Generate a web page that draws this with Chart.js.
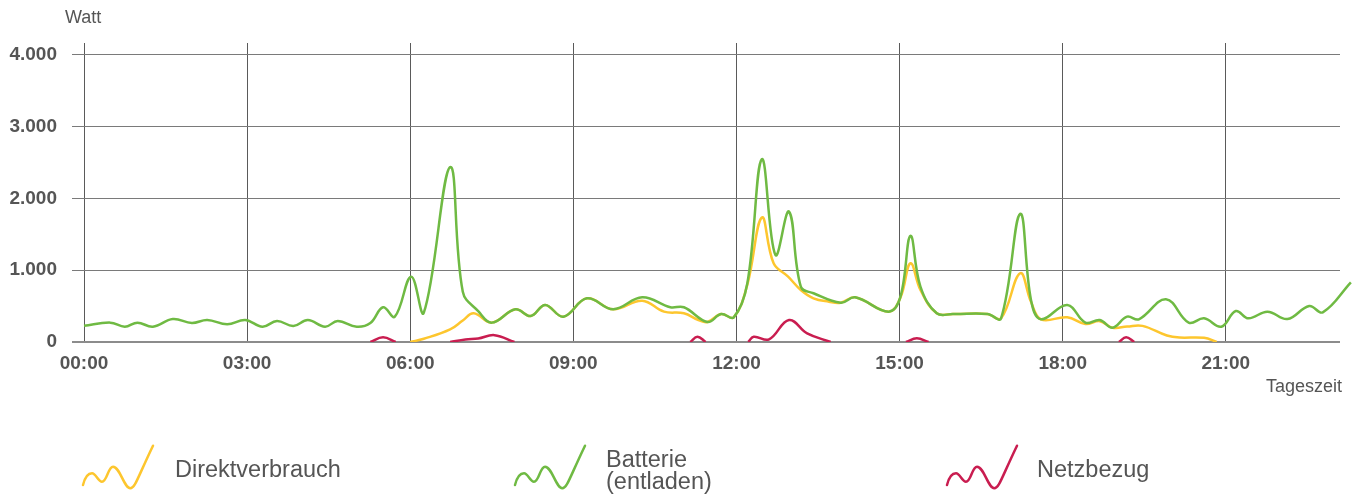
<!DOCTYPE html>
<html>
<head>
<meta charset="utf-8">
<script src="https://cdn.jsdelivr.net/npm/chart.js@4"></script>
<style>
  body { margin: 0; background: #fff; }
  canvas { display: block; }
</style>
</head>
<body>
<canvas id="tagChart" width="1360" height="495"></canvas>
<script>
// Batterie (entladen)
let battTimes = ['00:00','00:29','00:45','00:59','01:16','01:38','01:59','02:16','02:38','02:58',
  '03:17','03:33','03:51','04:07','04:26','04:40','05:01','05:16','05:30','05:43',
  '06:01','06:15','06:44','06:58','07:15','07:30','07:56','08:13','08:29','08:49',
  '09:15','09:44','10:16','10:47','11:02','11:28','11:43','11:57','12:12','12:28',
  '12:43','12:58','13:11','13:25','13:55','14:11','14:48','15:01','15:12','15:23',
  '15:41','15:59','16:37','16:52','17:13','17:25','17:36','18:05','18:25','18:41',
  '18:55','19:11','19:24','19:54','20:19','20:36','20:55','21:11','21:25','21:46',
  '22:08','22:32','22:47','23:18'];
let battWatts = [225,270,213,270,213,320,265,307,247,307,
  213,293,223,307,213,293,213,265,484,353,
  910,409,2436,700,430,270,456,362,516,353,
  609,456,623,484,484,279,390,344,818,2548,
  1213,1817,771,679,548,623,423,632,1478,771,
  400,390,390,330,1785,586,316,516,270,307,
  200,353,316,595,270,330,213,432,330,423,
  320,502,414,832];

// Direktverbrauch
let direktTimes = ['06:00','06:15','06:44','06:58','07:10','07:30','07:56','08:13','08:29','08:49',
  '09:15','09:44','10:16','10:40','11:02','11:18','11:28','11:43','11:57','12:12',
  '12:28','12:41','12:57','13:11','13:25','13:42','13:55','14:11','14:48','15:01',
  '15:12','15:23','15:41','15:59','16:37','16:52','17:13','17:25','17:36','18:05',
  '18:25','18:41','18:55','19:11','19:28','19:55','20:09','20:36','20:50'];
let direktWatts = [0,45,175,300,400,270,456,362,516,353,
  609,456,576,423,400,307,279,390,344,800,
  1734,1098,911,725,609,562,548,623,423,620,
  1098,725,400,390,390,330,958,560,316,345,
  251,290,200,215,225,90,62,58,0];

// Netzbezug (null = keine Linie)
let netzTimes = ['05:16','05:30','05:44','05:50',
  '06:44','07:01','07:15','07:33','07:55','08:00',
  '11:09','11:17','11:26','11:30',
  '12:13','12:19','12:36','12:58','13:18','13:44','13:50',
  '15:07','15:19','15:32','15:40',
  '19:02','19:10','19:19'];
let netzWatts = [0,65,0,null,
  0,35,50,95,0,null,
  0,74,0,null,
  0,74,37,307,121,0,null,
  0,51,0,null,
  0,65,0];

let yTicks = [0,1000,2000,3000,4000];
let xTicks = [0,3,6,9,12,15,18,21];

let colYellow = '#fdc62e', colGreen = '#6fba43', colRed = '#c91d50';

function hrs(s){
  let p = s.split(':');
  return +p[0] + (+p[1])/60;
}
function points(times, vals){
  return times.map((t,i) => ({x: hrs(t), y: vals[i]}));
}
function fmt(v){
  return String(v).replace(/\B(?=(\d{3})+(?!\d))/g, '.');
}

// squiggle icon for legend
function icon(ctx, x, y, color){
  ctx.save();
  ctx.strokeStyle = color;
  ctx.lineWidth = 2.5;
  ctx.lineCap = 'round';
  ctx.beginPath();
  ctx.moveTo(x, y);
  ctx.bezierCurveTo(x+2, y-8, x+5, y-11.7, x+9, y-11.7);
  ctx.bezierCurveTo(x+13, y-11.7, x+15, y-3.3, x+19, y-3.3);
  ctx.bezierCurveTo(x+24, y-3.3, x+25, y-18.3, x+30, y-18.3);
  ctx.bezierCurveTo(x+37, y-18.3, x+41, y+3.3, x+47.3, y+3.3);
  ctx.bezierCurveTo(x+52, y+3.3, x+54, y-6, x+70, y-39.3);
  ctx.stroke();
  ctx.restore();
}

let extras = {
  id: 'extras',
  afterDraw(chart){
    let ctx = chart.ctx;
    ctx.save();
    ctx.fillStyle = '#555';
    ctx.textBaseline = 'middle';
    ctx.font = '18px "Liberation Sans", Arial, sans-serif';
    ctx.textAlign = 'left';
    ctx.fillText('Watt', 65, 18);
    ctx.textAlign = 'right';
    ctx.fillText('Tageszeit', 1342, 387);

    ctx.textAlign = 'left';
    ctx.textBaseline = 'alphabetic';
    ctx.font = '23.5px "Liberation Sans", Arial, sans-serif';
    icon(ctx, 83, 485, colYellow);
    ctx.fillText('Direktverbrauch', 175, 477);
    icon(ctx, 515, 485, colGreen);
    ctx.fillText('Batterie', 606, 467);
    ctx.fillText('(entladen)', 606, 489);
    icon(ctx, 947, 485, colRed);
    ctx.fillText('Netzbezug', 1037, 477);
    ctx.restore();
  }
};

let myChart = document.getElementById('tagChart').getContext('2d');

let chart = new Chart(myChart, {
  type: 'line',
  data: {
    datasets: [
      { label: 'Batterie (entladen)', data: points(battTimes, battWatts), borderColor: colGreen, clip: false },
      { label: 'Direktverbrauch', data: points(direktTimes, direktWatts), borderColor: colYellow },
      { label: 'Netzbezug', data: points(netzTimes, netzWatts), borderColor: colRed }
    ]
  },
  options: {
    responsive: false,
    animation: false,
    spanGaps: false,
    elements: {
      line: { borderWidth: 2.5, tension: 0.4, fill: false },
      point: { radius: 0, hoverRadius: 0 }
    },
    layout: { padding: { top: 43, left: 0, right: 20, bottom: 0 } },
    plugins: {
      legend: { display: false },
      tooltip: { enabled: false }
    },
    scales: {
      x: {
        type: 'linear',
        min: 0,
        max: 23.1,
        afterFit(s){ s.height = 153; },
        afterBuildTicks(s){ s.ticks = xTicks.map(v => ({value: v})); },
        ticks: {
          padding: 10,
          color: '#555',
          font: { family: '"Liberation Sans", Arial, sans-serif', size: 19, weight: 'bold' },
          maxRotation: 0,
          callback: v => String(v).padStart(2, '0') + ':00'
        },
        grid: { color: '#5a5a5a', lineWidth: 1, drawTicks: false },
        border: { display: false }
      },
      y: {
        min: 0,
        max: 4167,
        afterFit(s){ s.width = 84; },
        afterBuildTicks(s){ s.ticks = yTicks.map(v => ({value: v})); },
        ticks: {
          padding: 15,
          color: '#555',
          font: { family: '"Liberation Sans", Arial, sans-serif', size: 19, weight: 'bold' },
          callback: v => fmt(v)
        },
        grid: {
          color: c => c.tick && c.tick.value === 0 ? '#8c8c8c' : '#7a7a7a',
          lineWidth: c => c.tick && c.tick.value === 0 ? 2 : 1,
          tickLength: 12
        },
        border: { display: false }
      }
    }
  },
  plugins: [extras]
});
</script>
</body>
</html>
